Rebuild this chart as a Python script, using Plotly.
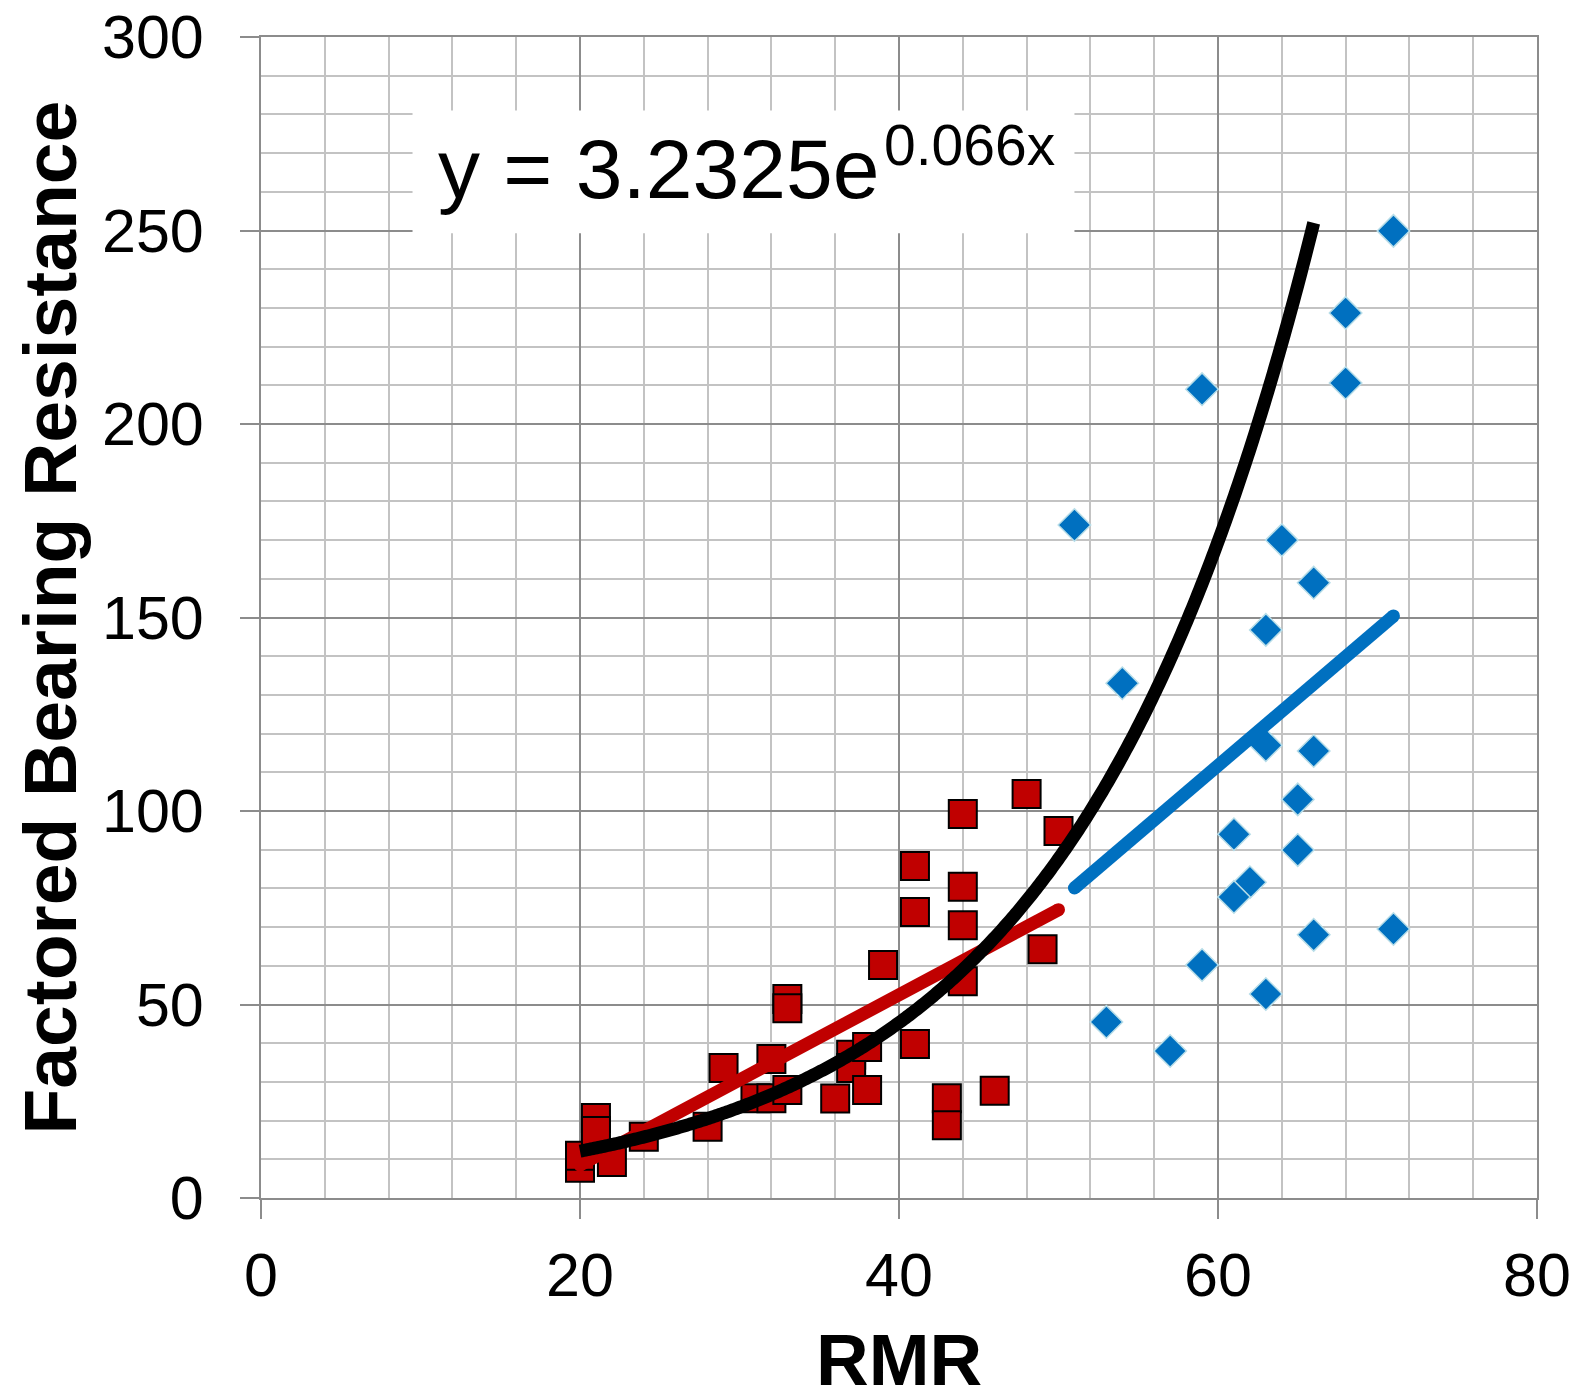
import numpy as np
import plotly.graph_objects as go

# Field data: RMR vs factored bearing resistance
red_rmr = [20, 20, 21, 21, 22, 24, 28, 29, 31, 32, 32, 33, 33, 33, 36, 37, 37,
           38, 38, 39, 41, 41, 41, 43, 43, 44, 44, 44, 44, 46, 48, 49, 50]
red_fbr = [7.8, 10.9, 20.7, 17.3, 9.3, 15.8, 18.4, 33.6, 25.8, 35.9, 25.8, 51.4,
           49.0, 27.9, 25.7, 37.0, 33.6, 39.0, 27.9, 60.2, 85.8, 73.9, 39.8, 25.8,
           18.8, 99.2, 80.4, 70.5, 56.0, 27.7, 104.4, 64.3, 94.8]

blue_rmr = [71, 68, 68, 59, 51, 64, 66, 63, 54, 63, 66, 65, 61, 65, 62, 61, 66,
            71, 59, 63, 53, 57]
blue_fbr = [249.9, 228.7, 210.6, 209.0, 173.9, 170.0, 159.0, 146.8, 133.0, 117.0,
            115.5, 103.0, 94.0, 89.9, 81.6, 77.8, 68.0, 69.5, 60.2, 52.7, 45.5, 38.0]

# Linear trend lines for each group (end points)
red_trend_x = [20, 50]
red_trend_y = [8.5, 74.5]
blue_trend_x = [51, 71]
blue_trend_y = [80.1, 150.4]

# Exponential fit over all data: y = 3.2325 e^(0.066x)
fit_a = 3.2325
fit_b = 0.066
fit_range = [20, 66]

x_ticks = [0, 20, 40, 60, 80]
y_ticks = [0, 50, 100, 150, 200, 250, 300]

FONT = "Liberation Sans, Arial, sans-serif"
RED = "#C00000"
BLUE = "#0070C0"
MAJOR = "#8c8c8c"
MINOR = "#c3c3c3"

fig = go.Figure()

fig.add_trace(go.Scatter(
    x=red_rmr, y=red_fbr, mode="markers",
    marker=dict(symbol="square", size=28, color=RED,
                line=dict(color="black", width=2)),
    showlegend=False))

fig.add_trace(go.Scatter(
    x=blue_rmr, y=blue_fbr, mode="markers",
    marker=dict(symbol="diamond", size=25, color=BLUE,
                line=dict(color="#b7dde8", width=1.5)),
    showlegend=False))

fig.add_trace(go.Scatter(
    x=red_trend_x, y=red_trend_y, mode="lines+markers",
    line=dict(color=RED, width=13),
    marker=dict(symbol="circle", size=13, color=RED, line=dict(width=0)),
    showlegend=False))

fig.add_trace(go.Scatter(
    x=blue_trend_x, y=blue_trend_y, mode="lines+markers",
    line=dict(color=BLUE, width=13),
    marker=dict(symbol="circle", size=13, color=BLUE, line=dict(width=0)),
    showlegend=False))

xs = np.linspace(fit_range[0], fit_range[1], 400)
fig.add_trace(go.Scatter(
    x=xs, y=fit_a * np.exp(fit_b * xs), mode="lines",
    line=dict(color="black", width=13, simplify=False),
    showlegend=False))

# White box behind the fit equation
fig.add_shape(type="rect", xref="x", yref="y", x0=9.5, x1=51.0, y0=249.3, y1=281.0,
              fillcolor="white", line=dict(width=0), layer="between")

# Fit equation: base and exponent
fig.add_annotation(
    x=10.95, y=266, xref="x", yref="y", xanchor="left", yanchor="middle",
    text="y = 3.2325e", showarrow=False,
    font=dict(family=FONT, size=84, color="black"))
fig.add_annotation(
    x=38.95, y=272.0, xref="x", yref="y", xanchor="left", yanchor="middle",
    text="0.066x", showarrow=False,
    font=dict(family=FONT, size=57, color="black"))

axis_common = dict(
    automargin=False,
    showgrid=True, gridcolor=MAJOR, gridwidth=2,
    showline=True, linecolor=MAJOR, linewidth=2, mirror=True,
    zeroline=False,
    ticks="outside", ticklen=19, tickwidth=2, tickcolor=MAJOR,
    tickfont=dict(family=FONT, size=61, color="black"),
)

fig.update_xaxes(
    range=[0, 80], tickvals=x_ticks, ticklabelstandoff=4,
    minor=dict(dtick=4, showgrid=True, gridcolor=MINOR, gridwidth=2, ticks=""),
    **axis_common)
fig.update_yaxes(
    range=[0, 300], tickvals=y_ticks, ticklabelstandoff=24,
    minor=dict(dtick=10, showgrid=True, gridcolor=MINOR, gridwidth=2, ticks=""),
    **axis_common)

# Axis titles
fig.add_annotation(
    x=0.5, y=-0.139, xref="paper", yref="paper", xanchor="center", yanchor="middle",
    text="<b>RMR</b>", showarrow=False,
    font=dict(family=FONT, size=73, color="black"))
fig.add_annotation(
    x=-0.1654, y=0.5, xref="paper", yref="paper", xanchor="center", yanchor="middle",
    text="<b>Factored Bearing Resistance</b>", textangle=-90, showarrow=False,
    font=dict(family=FONT, size=75, color="black"))

fig.update_layout(
    width=1579, height=1391,
    margin=dict(l=261, r=42, t=37, b=193, pad=0, autoexpand=False),
    paper_bgcolor="white", plot_bgcolor="white",
    font=dict(family=FONT),
)

fig.write_html("out.html")
